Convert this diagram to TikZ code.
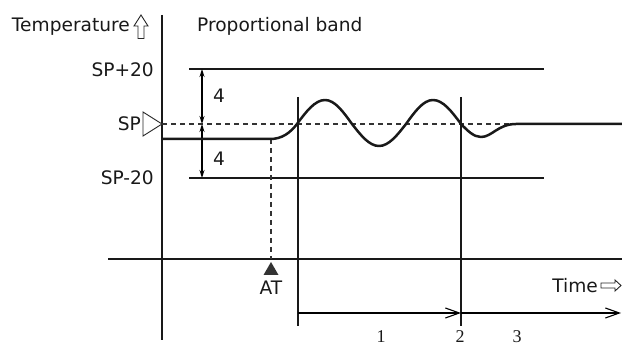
\documentclass[tikz,border=0pt]{standalone}
\usepackage{fontspec}
\setmainfont{DejaVu Sans}
\newfontfamily\numfont{Liberation Serif}
\usetikzlibrary{arrows.meta}
\begin{document}
\begin{tikzpicture}[x=1pt,y=-1pt,
  thin line/.style={line width=1.1pt, black!90},
  dashline/.style={line width=1.1pt, black!80, dash pattern=on 5pt off 4pt},
  curve/.style={line width=2.5pt, black!90, line join=round},
  lbl/.style={font=\fontsize{18.6}{21}\selectfont, text=black!90, inner sep=0pt},
  numlbl/.style={font=\numfont\fontsize{18}{20}\selectfont, text=black!90, inner sep=0pt},
  dimarrow/.style={line width=1.1pt, {Stealth[length=8pt,width=5pt]}-{Stealth[length=8pt,width=5pt]}},
  barb/.style={line width=1.1pt, -{Straight Barb[length=14pt,width=10pt,line width=1.1pt]}},
  hollow/.style={line width=0.9pt, black!85, fill=white, line join=miter}]
\useasboundingbox (0,0) rectangle (622,347);

% axes
\coordinate (yTop) at (162,15);
\coordinate (yBot) at (162,340);
\coordinate (xL) at (108,259);
\coordinate (xR) at (622,259);
\draw[thin line] (yTop) -- (yBot);
\draw[thin line] (xL) -- (xR);

% band lines
\coordinate (hiL) at (189,69); \coordinate (hiR) at (544,69);
\coordinate (loL) at (189,178); \coordinate (loR) at (544,178);
\draw[thin line] (hiL) -- (hiR);
\draw[thin line] (loL) -- (loR);

% SP dashed line
\coordinate (spL) at (162,124); \coordinate (spR) at (512,124);
\draw[dashline] (spL) -- (spR);

% vertical markers
\coordinate (v1t) at (298,97); \coordinate (v1b) at (298,326);
\coordinate (v2t) at (461,97); \coordinate (v2b) at (461,326);
\draw[thin line] (v1t) -- (v1b);
\draw[thin line] (v2t) -- (v2b);

% AT dashed line
\coordinate (atT) at (271,139); \coordinate (atB) at (271,259);
\draw[dashline] (atT) -- (atB);
\fill[black!80] (271,262) -- (278.5,275) -- (263.5,275) -- cycle;

% dimension arrows
\coordinate (d1) at (202,69); \coordinate (d2) at (202,124); \coordinate (d3) at (202,178);
\draw[dimarrow] (d1) -- (d2);
\draw[dimarrow] (d2) -- (d3);

% bottom arrows
\coordinate (b1) at (298,313); \coordinate (b2) at (461,313); \coordinate (b3) at (621,313);
\draw[barb] (b1) -- (b2);
\draw[barb] (b2) -- (b3);

% SP triangle marker
\draw[hollow] (162,124) -- (143,112) -- (143,136) -- cycle;

% temperature curve
\draw[curve] (162,139) -- (270,139)
  .. controls (282,139) and (290,133) .. (297,124)
  sin (325,100) cos (352,124) sin (379,146) cos (406,124)
  sin (433,100) cos (461,124) sin (481,137)
  .. controls (492,137) and (498,124) .. (516,124) -- (622,124);

% hollow arrows
\draw[hollow] (141,15) -- (148,26) -- (144,26) -- (144,38.5) -- (138,38.5) -- (138,26) -- (134,26) -- cycle;
\draw[hollow] (601,283) -- (615,283) -- (615,280) -- (621,285.5) -- (615,291) -- (615,288) -- (601,288) -- cycle;

% labels
\node[lbl, anchor=base east] (temp) at (130,32) {Temperature};
\node[lbl, anchor=base west] (pband) at (197,32) {Proportional band};
\node[lbl, anchor=base east] (sphi) at (154,77) {SP+20};
\node[lbl, anchor=base east] (sp) at (141,131) {SP};
\node[lbl, anchor=base east] (splo) at (154,185) {SP-20};
\node[lbl, anchor=base west] (four1) at (213,103) {4};
\node[lbl, anchor=base west] (four2) at (213,166) {4};
\node[lbl, anchor=base] (at) at (271,295) {AT};
\node[lbl, anchor=base east] (time) at (598,293) {Time};
\node[numlbl, anchor=base] (n1) at (381,343) {1};
\node[numlbl, anchor=base] (n2) at (460,343) {2};
\node[numlbl, anchor=base] (n3) at (517,343) {3};
\end{tikzpicture}
\end{document}
